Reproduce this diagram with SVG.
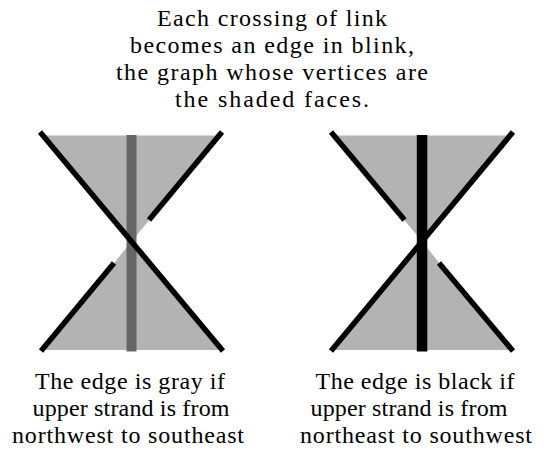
<svg xmlns="http://www.w3.org/2000/svg" width="544" height="454" viewBox="0 0 544 454">
<style>
.face { fill: #b3b3b3; stroke: none; }
.strand { stroke: #000; stroke-width: 5.5; fill: none; stroke-linecap: butt; }
</style>
<rect width="544" height="454" fill="#fff"/>
<g id="caption-top" font-family="Liberation Serif, DejaVu Serif, serif" font-size="24" text-anchor="middle" fill="#000">
<text x="272" y="26" textLength="230" lengthAdjust="spacing">Each crossing of link</text>
<text x="272" y="53" textLength="284" lengthAdjust="spacing">becomes an edge in blink,</text>
<text x="272" y="80" textLength="312" lengthAdjust="spacing">the graph whose vertices are</text>
<text x="272" y="107" textLength="194" lengthAdjust="spacing">the shaded faces.</text>
</g>
<g id="crossing-gray">
<polygon class="face" points="44,135.5 219,135.5 131.5,241.5"/>
<polygon class="face" points="44,350 219,350 131.5,241.5"/>
<rect x="126.5" y="135" width="10" height="216.5" fill="#666666"/>
<line class="strand" x1="40" y1="132" x2="223" y2="351"/>
<line class="strand" x1="222" y1="132" x2="149" y2="220"/>
<line class="strand" x1="114" y1="263" x2="41" y2="351"/>
</g>
<g id="crossing-black">
<polygon class="face" points="334.5,135.5 509.5,135.5 422,241.5"/>
<polygon class="face" points="334.5,350 509.5,350 422,241.5"/>
<rect x="416.8" y="135" width="10.5" height="216.5" fill="#000"/>
<line class="strand" x1="513" y1="132" x2="331" y2="351"/>
<line class="strand" x1="331" y1="132" x2="404.5" y2="220"/>
<line class="strand" x1="439" y1="263" x2="513" y2="351"/>
</g>
<g id="caption-left" font-family="Liberation Serif, DejaVu Serif, serif" font-size="24" text-anchor="middle" fill="#000">
<text x="130" y="389" textLength="190" lengthAdjust="spacing">The edge is gray if</text>
<text x="131" y="416" textLength="197" lengthAdjust="spacing">upper strand is from</text>
<text x="128" y="443" textLength="232" lengthAdjust="spacing">northwest to southeast</text>
</g>
<g id="caption-right" font-family="Liberation Serif, DejaVu Serif, serif" font-size="24" text-anchor="middle" fill="#000">
<text x="415" y="389" textLength="199" lengthAdjust="spacing">The edge is black if</text>
<text x="409" y="416" textLength="197" lengthAdjust="spacing">upper strand is from</text>
<text x="416" y="443" textLength="232" lengthAdjust="spacing">northeast to southwest</text>
</g>
</svg>
